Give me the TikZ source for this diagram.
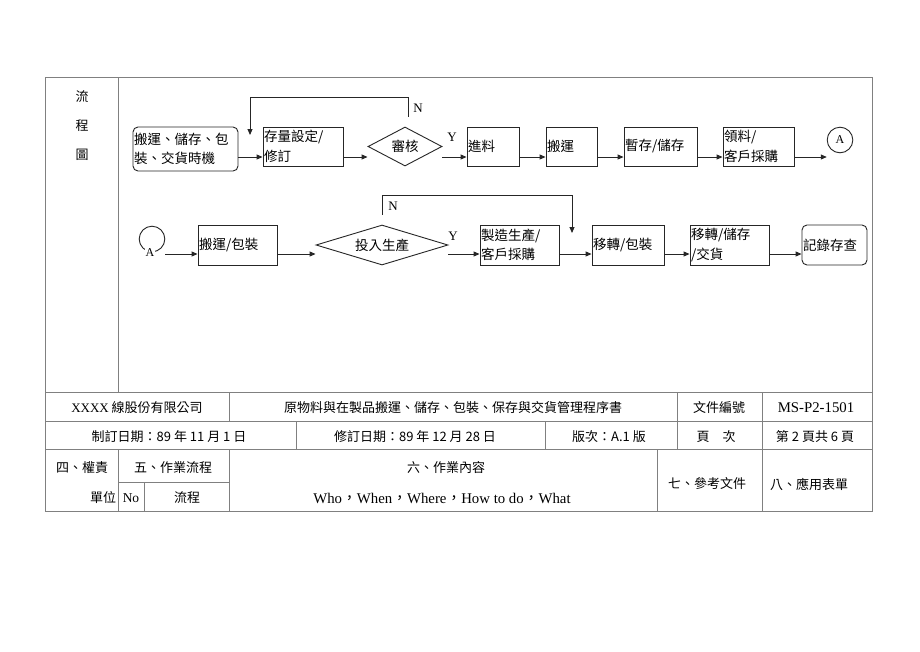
\documentclass[tikz,border=0pt]{standalone}
\usepackage{fontspec}
\setmainfont{Liberation Serif}
\newfontfamily\cjk{Noto Sans CJK TC}
\usetikzlibrary{shapes.geometric,arrows.meta,calc}
\begin{document}
\begin{tikzpicture}[x=1pt,y=-1pt,
  tline/.style={draw=black!50,line width=0.8pt},
  fline/.style={draw=black!85,line width=0.9pt},
  arr/.style={fline,-{Triangle[length=6pt,width=5pt]}},
  box/.style={fline,rectangle,inner sep=1pt,align=left,font=\cjk\fontsize{13.5}{19.5}\selectfont},
  rbox/.style={box,rounded corners=5pt},
  dia/.style={fline,diamond,inner sep=0pt,font=\cjk\fontsize{13.5}{16}\selectfont},
  circ/.style={fline,circle,minimum size=25.6pt,inner sep=0pt,font=\fontsize{12}{12}\selectfont},
  lbl/.style={inner sep=0pt,font=\fontsize{13}{13}\selectfont},
  tt/.style={inner sep=0pt,font=\cjk\fontsize{13}{13}\selectfont},
  ts/.style={inner sep=0pt,font=\fontsize{13.5}{13.5}\selectfont},
  tl/.style={inner sep=0pt,font=\fontsize{14.8}{14.8}\selectfont}
]
\fill[white] (0,0) rectangle (920,651);
\useasboundingbox (0,0) rectangle (920,651);

% table grid
\draw[tline] (45,77) rectangle (872,511);
\draw[tline] (118,77) -- (118,392);
\draw[tline] (45,392) -- (872,392);
\draw[tline] (45,421) -- (872,421);
\draw[tline] (45,449) -- (872,449);
\draw[tline] (118,482) -- (229,482);
\draw[tline] (229,392) -- (229,421);
\draw[tline] (677,392) -- (677,449);
\draw[tline] (762,392) -- (762,511);
\draw[tline] (296,421) -- (296,449);
\draw[tline] (545,421) -- (545,449);
\draw[tline] (118,449) -- (118,511);
\draw[tline] (229,449) -- (229,511);
\draw[tline] (657,449) -- (657,511);
\draw[tline] (144,482) -- (144,511);

% left column title
\node[tt] (h1) at (82,97) {流};
\node[tt] (h2) at (82,126) {程};
\node[tt] (h3) at (82,155) {圖};

% table texts
\node[tt] (t1) at (137,408) {{\rmfamily XXXX} 線股份有限公司};
\node[tt] (t2) at (453,408) {原物料與在製品搬運、儲存、包裝、保存與交貨管理程序書};
\node[tt] (t3) at (719,408) {文件編號};
\node[tl] (t4) at (816,408) {MS-P2-1501};
\node[tt] (t5) at (169,437) {制訂日期：89 年 11 月 1 日};
\node[tt] (t6) at (415,437) {修訂日期：89 年 12 月 28 日};
\node[tt] (t7) at (609,437) {版次：A.1 版};
\node[tt] (t8) at (716,437) {頁\quad 次};
\node[tt] (t9) at (815,437) {第 2 頁共 6 頁};
\node[tt] (t10) at (82,468) {四、權責};
\node[tt] (t11) at (103,498) {單位};
\node[tt] (t12) at (173,468) {五、作業流程};
\node[ts] (t13) at (131,498) {No};
\node[tt] (t14) at (187,498) {流程};
\node[tt] (t15) at (446,468) {六、作業內容};
\node[tl] (t16) at (442,498) {Who{\cjk ，}When{\cjk ，}Where{\cjk ，}How to do{\cjk ，}What};
\node[tt] (t17) at (707,484) {七、參考文件};
\node[tt] (t18) at (809,484) {八、應用表單};

% flow row 1
\coordinate (r1) at (0,157);
\node[rbox,text width=103pt,minimum height=44pt] (b0) at (185.5,149) {搬運、儲存、包\\裝、交貨時機};
\node[box,text width=78pt,minimum height=39pt] (b1) at (303,146.5) {存量設定/\\修訂};
\node[dia,minimum width=74pt,minimum height=39pt,aspect=1.9] (d1) at (405,146.5) {審核};
\node[box,text width=50pt,minimum height=39pt] (b2) at (493,146.5) {進料};
\node[box,text width=49pt,minimum height=39pt] (b3) at (571.5,146.5) {搬運};
\node[box,text width=71pt,minimum height=39pt] (b4) at (660.5,146.5) {暫存/儲存};
\node[box,text width=69pt,minimum height=39pt] (b5) at (758.5,146.5) {領料/\\客戶採購};
\node[circ] (c1) at (840,140) {A};

\draw[arr] (b0.east |- r1) -- (b1.west |- r1);
\draw[arr] (b1.east |- r1) -- (d1.west |- r1);
\draw[arr] (d1.east |- r1) -- (b2.west |- r1);
\draw[arr] (b2.east |- r1) -- (b3.west |- r1);
\draw[arr] (b3.east |- r1) -- (b4.west |- r1);
\draw[arr] (b4.east |- r1) -- (b5.west |- r1);
\draw[arr] (b5.east |- r1) -- (c1.west |- r1);

\coordinate (n1e) at (250,135);
\draw[arr] ([shift={(3,-10)}]d1.north) -- ++(0,-19.5) -| (n1e);
\node[lbl] (N1) at (418,108) {N};
\node[lbl] (Y1) at (452,137) {Y};

% flow row 2
\coordinate (r2) at (0,254);
\node[circ] (c2) at (152,239) {};
\node[fill=white,inner sep=0.6pt,font=\fontsize{12}{12}\selectfont] (c2a) at (150,253) {A};
\node[box,text width=77pt,minimum height=40pt] (b6) at (237.5,245) {搬運/包裝};
\node[dia,minimum width=132pt,minimum height=40pt,aspect=3.3] (d2) at (382,245) {投入生產};
\node[box,text width=77pt,minimum height=40pt] (b7) at (519.5,245) {製造生產/\\客戶採購};
\node[box,text width=70pt,minimum height=40pt] (b8) at (628,245) {移轉/包裝};
\node[box,text width=77pt,minimum height=40pt] (b9) at (729.5,245) {移轉/儲存\\/交貨};
\node[rbox,text width=63pt,minimum height=40pt] (b10) at (834.5,245) {記錄存查};

\draw[arr] (c2.east |- r2) -- (b6.west |- r2);
\draw[arr] (b6.east |- r2) -- (d2.west |- r2);
\draw[arr] (d2.east |- r2) -- (b7.west |- r2);
\draw[arr] (b7.east |- r2) -- (b8.west |- r2);
\draw[arr] (b8.east |- r2) -- (b9.west |- r2);
\draw[arr] (b9.east |- r2) -- (b10.west |- r2);

\coordinate (n2e) at (572,233);
\draw[arr] ([shift={(0,-10)}]d2.north) -- ++(0,-19) -| (n2e);
\node[lbl] (N2) at (393,206) {N};
\node[lbl] (Y2) at (453,236) {Y};
\end{tikzpicture}
\end{document}
